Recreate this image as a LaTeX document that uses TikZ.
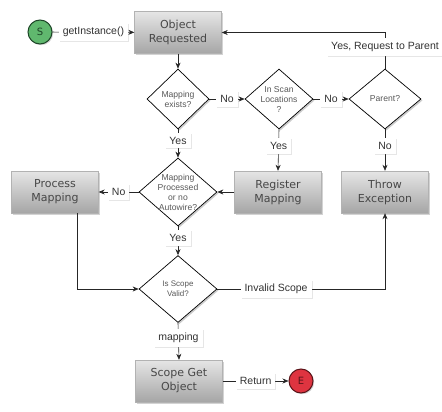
\documentclass[tikz,border=0pt]{standalone}
\usepackage{fontspec}
\setmainfont{Liberation Sans}
\newfontfamily\boxfont{DejaVu Sans}
\usetikzlibrary{shapes.geometric,arrows.meta,shadows,calc}
\definecolor{sgreen}{RGB}{96,184,110}
\definecolor{sgreendk}{RGB}{30,70,40}
\definecolor{ered}{RGB}{222,52,64}
\definecolor{ereddk}{RGB}{90,20,25}
\tikzset{
  procbox/.style={rectangle, draw=black!30, top color=black!10, bottom color=black!35,
    minimum width=87pt, minimum height=42pt, align=center, inner sep=2pt,
    font=\boxfont\fontsize{11}{14}\selectfont, text=black!72,
    drop shadow={opacity=0.35, shadow xshift=1.8pt, shadow yshift=-1.8pt}},
  dec/.style={diamond, draw=black, line width=0.7pt, fill=white, inner sep=0pt,
    drop shadow={opacity=0.4, shadow xshift=1.5pt, shadow yshift=-1.5pt}},
  dtext/.style={align=center, inner sep=0pt, font=\fontsize{8.6}{10}\selectfont, text=black!65},
  lab/.style={rectangle, fill=white, inner xsep=4pt, inner ysep=4pt, font=\fontsize{10.5}{12}\selectfont, text=black!80,
    drop shadow={opacity=0.2, shadow xshift=1pt, shadow yshift=-1pt}},
  term/.style={circle, minimum size=24pt, inner sep=0pt, line width=1pt,
    font=\boxfont\fontsize{10}{12}\selectfont,
    drop shadow={opacity=0.35, shadow xshift=1.2pt, shadow yshift=-1.2pt}},
  conn/.style={draw=black!85, line width=0.6pt, -{Stealth[length=6pt,width=5pt]}}
}
\begin{document}
\begin{tikzpicture}[x=1pt,y=-1pt]
\useasboundingbox (0,0) rectangle (442,412);
% nodes
\node[term, fill=sgreen, draw=sgreendk, text=sgreendk] (s) at (40,32) {S};
\node[procbox] (obj) at (178,32.5) {Object\\Requested};
\node[dec, minimum width=62pt, minimum height=60pt] (d1) at (178,99) {};
\node[dtext] (t1) at (d1) {Mapping\\exists?};
\node[dec, minimum width=68pt, minimum height=60pt] (d2) at (279,99) {};
\node[dtext] (t2) at (d2) {In Scan\\Locations\\?};
\node[dec, minimum width=72pt, minimum height=60pt] (d3) at (385,99) {};
\node[dtext] (t3) at (d3) {Parent?};
\node[dec, minimum width=78pt, minimum height=68pt] (d4) at (178,192) {};
\node[dtext] (t4) at (d4) {Mapping\\Processed\\or no\\Autowire?};
\node[procbox] (pm) at (55,192) {Process\\Mapping};
\node[procbox] (reg) at (278,192) {Register\\Mapping};
\node[procbox] (thr) at (385,192) {Throw\\Exception};
\node[dec, minimum width=78pt, minimum height=67pt] (d5) at (178,289) {};
\node[dtext, font=\fontsize{8}{10}\selectfont] (t5) at (d5) {Is Scope\\Valid?};
\node[procbox] (sgo) at (179,381) {Scope Get\\Object};
\node[term, fill=ered, draw=ereddk, text=ereddk] (e) at (301,381) {E};
\coordinate (pmb) at (77,289);
\coordinate (top) at (385,32.5);
\coordinate (isr) at (385,289);
% connectors
\draw[conn] (s) -- node[lab] {getInstance()} (obj);
\draw[conn] (obj) -- (d1);
\draw[conn] (d1.east) -- node[lab] {No} (d2.west);
\draw[conn] (d2.east) -- node[lab] {No} (d3.west);
\draw[conn] (d3.north) -- node[lab, pos=0.6] {Yes, Request to Parent} (top) -- (obj.east);
\draw[conn] (d1.south) -- node[lab, pos=0.4] {Yes} (d4.north);
\draw[conn] (d2.south) -- node[lab, pos=0.4] {Yes} (reg.north);
\draw[conn] (d3.south) -- node[lab, pos=0.4] {No} (thr.north);
\draw[conn] (reg.west) -- (d4.east);
\draw[conn] (d4.west) -- node[lab] {No} (pm.east);
\draw[conn] (d4.south) -- node[lab, pos=0.4] {Yes} (d5.north);
\draw[conn] (pm.south -| pmb) -- (pmb) -- (d5.west);
\draw[conn] (d5.east) -- node[lab, pos=0.35] {Invalid Scope} (isr) -- (thr.south);
\draw[conn] (d5.south) -- node[lab, pos=0.4] {mapping} (sgo.north);
\draw[conn] (sgo.east) -- node[lab] {Return} (e);
\end{tikzpicture}
\end{document}
